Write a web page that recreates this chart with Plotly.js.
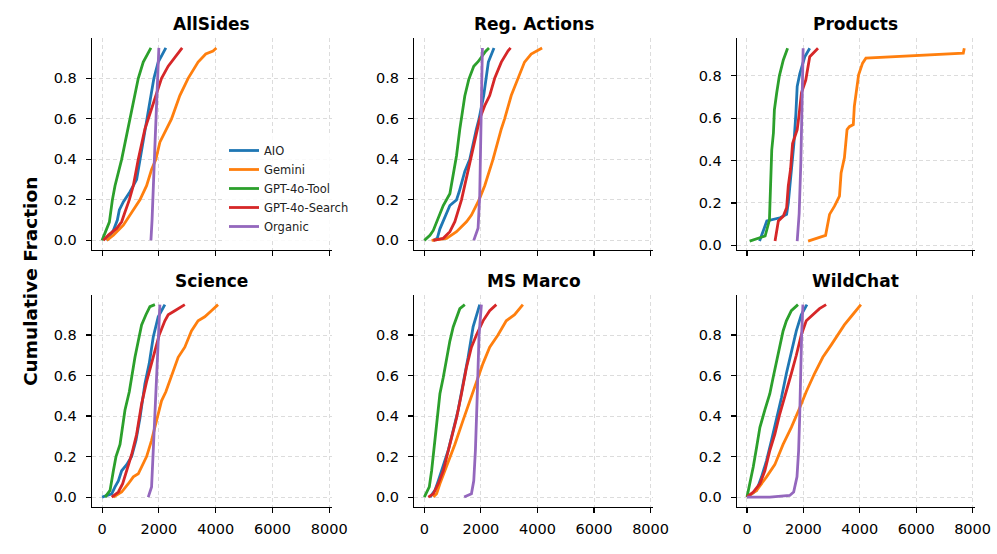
<!DOCTYPE html>
<html>
<head>
<meta charset="utf-8">
<script src="https://cdn.plot.ly/plotly-3.0.1.min.js"></script>
<style>html,body{margin:0;padding:0;background:#fff;}#chart{width:997px;height:554px;}</style>
</head>
<body>
<div id="chart"></div>
<script>
// ---- names ----
const panelTitles = ["AllSides", "Reg. Actions", "Products", "Science", "MS Marco", "WildChat"];
const seriesNames = ["AIO", "Gemini", "GPT-4o-Tool", "GPT-4o-Search", "Organic"];
const seriesColors = ["#1f77b4", "#ff7f0e", "#2ca02c", "#d62728", "#9467bd"];
const xTickVals = [0, 2000, 4000, 6000, 8000];
const yTickVals = [0, 0.2, 0.4, 0.6, 0.8];
const yTickText = ["0.0", "0.2", "0.4", "0.6", "0.8"];

// ---- AllSides ----
const allsides_aio_x = [164, 400, 538, 608, 748, 983, 1217, 1404, 1626, 1685, 1825, 1977, 2246];
const allsides_aio_y = [0, 0.05, 0.1, 0.15, 0.19, 0.24, 0.3, 0.45, 0.63, 0.67, 0.8, 0.88, 0.95];
const allsides_gemini_x = [164, 398, 749, 983, 1334, 1568, 1743, 1895, 2036, 2270, 2446, 2738, 3030, 3381, 3650, 3907, 4025];
const allsides_gemini_y = [0, 0.026, 0.075, 0.125, 0.2, 0.27, 0.35, 0.4, 0.485, 0.55, 0.6, 0.715, 0.8, 0.88, 0.92, 0.935, 0.95];
const allsides_tool_x = [0, 257, 363, 456, 690, 982, 1275, 1450, 1720];
const allsides_tool_y = [0, 0.09, 0.2, 0.27, 0.4, 0.6, 0.8, 0.88, 0.95];
const allsides_search_x = [47, 222, 515, 690, 807, 959, 1100, 1275, 1509, 1626, 1860, 2094, 2328, 2620, 2820];
const allsides_search_y = [0, 0.026, 0.059, 0.092, 0.14, 0.2, 0.27, 0.4, 0.55, 0.6, 0.71, 0.8, 0.86, 0.91, 0.95];
const allsides_organic_x = [1720, 1760, 1870, 1980, 2000];
const allsides_organic_y = [0, 0.1, 0.5, 0.9, 0.95];

// ---- Reg. Actions ----
const regactions_aio_x = [317, 457, 551, 762, 903, 1138, 1232, 1431, 1607, 1841, 1935, 2100, 2193, 2264, 2463];
const regactions_aio_y = [0, 0.01, 0.057, 0.123, 0.172, 0.2, 0.24, 0.34, 0.4, 0.55, 0.6, 0.715, 0.8, 0.88, 0.95];
const regactions_gemini_x = [258, 786, 1138, 1490, 1666, 1841, 1935, 2135, 2428, 2722, 2839, 3073, 3308, 3542, 3777, 4164];
const regactions_gemini_y = [0, 0.01, 0.043, 0.092, 0.125, 0.174, 0.2, 0.27, 0.4, 0.55, 0.6, 0.715, 0.8, 0.88, 0.92, 0.95];
const regactions_tool_x = [0, 199, 317, 528, 669, 903, 1021, 1138, 1255, 1314, 1431, 1572, 1748, 1900, 2170, 2287];
const regactions_tool_y = [0, 0.025, 0.049, 0.123, 0.172, 0.23, 0.32, 0.418, 0.549, 0.598, 0.713, 0.795, 0.859, 0.882, 0.934, 0.95];
const regactions_search_x = [317, 669, 903, 1079, 1314, 1642, 1900, 1959, 2135, 2311, 2487, 2722, 2956, 3050];
const regactions_search_y = [0, 0.01, 0.043, 0.092, 0.2, 0.4, 0.55, 0.6, 0.665, 0.715, 0.8, 0.88, 0.935, 0.95];
const regactions_organic_x = [1748, 1900, 1959, 2006, 2053];
const regactions_organic_y = [0, 0.06, 0.22, 0.55, 0.95];

// ---- Products ----
const products_aio_x = [445, 562, 703, 1171, 1405, 1464, 1581, 1663, 1733, 1780, 1874, 2049, 2225];
const products_aio_y = [0.02, 0.067, 0.115, 0.13, 0.146, 0.2, 0.36, 0.48, 0.62, 0.75, 0.81, 0.89, 0.93];
const products_gemini_x = [2166, 2787, 2927, 3103, 3279, 3337, 3454, 3548, 3630, 3770, 3806, 3888, 3958, 4099, 4216, 7670, 7705];
const products_gemini_y = [0.02, 0.047, 0.146, 0.185, 0.232, 0.342, 0.413, 0.546, 0.56, 0.57, 0.656, 0.75, 0.805, 0.86, 0.883, 0.907, 0.93];
const products_tool_x = [94, 644, 796, 843, 878, 937, 972, 1054, 1148, 1288, 1440];
const products_tool_y = [0.02, 0.044, 0.12, 0.28, 0.45, 0.53, 0.64, 0.72, 0.8, 0.875, 0.93];
const products_search_x = [995, 1112, 1288, 1405, 1464, 1546, 1616, 1780, 1850, 1932, 2084, 2225, 2518];
const products_search_y = [0.02, 0.115, 0.138, 0.177, 0.28, 0.36, 0.48, 0.546, 0.62, 0.72, 0.78, 0.89, 0.93];
const products_organic_x = [1780, 1850, 1909, 1956, 1991];
const products_organic_y = [0.02, 0.15, 0.39, 0.7, 0.93];

// ---- Science ----
const science_aio_x = [0, 339, 456, 573, 690, 866, 1041, 1193, 1334, 1509, 1661, 1802, 1977, 2211];
const science_aio_y = [0, 0.016, 0.05, 0.08, 0.13, 0.16, 0.2, 0.28, 0.39, 0.56, 0.66, 0.79, 0.89, 0.95];
const science_gemini_x = [398, 690, 925, 1100, 1275, 1568, 1743, 1919, 2094, 2246, 2445, 2679, 2913, 3147, 3381, 3615, 3850, 4083];
const science_gemini_y = [0, 0.025, 0.066, 0.1, 0.115, 0.2, 0.28, 0.38, 0.475, 0.52, 0.6, 0.69, 0.74, 0.82, 0.87, 0.89, 0.92, 0.95];
const science_tool_x = [105, 281, 398, 491, 632, 725, 807, 959, 1041, 1158, 1275, 1392, 1544, 1685, 1860];
const science_tool_y = [0, 0.033, 0.13, 0.2, 0.26, 0.34, 0.43, 0.52, 0.6, 0.69, 0.77, 0.85, 0.9, 0.94, 0.95];
const science_search_x = [339, 573, 725, 866, 1041, 1217, 1392, 1568, 1743, 1860, 2012, 2211, 2328, 2562, 2679, 2913];
const science_search_y = [0, 0.025, 0.066, 0.13, 0.21, 0.31, 0.46, 0.57, 0.66, 0.72, 0.8, 0.87, 0.9, 0.92, 0.93, 0.95];
const science_organic_x = [1626, 1743, 1802, 1919, 2036];
const science_organic_y = [0, 0.05, 0.23, 0.56, 0.95];

// ---- MS Marco ----
const msmarco_aio_x = [199, 375, 492, 669, 844, 1021, 1196, 1372, 1548, 1724, 1842, 1959];
const msmarco_aio_y = [0, 0.033, 0.08, 0.15, 0.23, 0.33, 0.43, 0.56, 0.69, 0.84, 0.89, 0.95];
const msmarco_gemini_x = [317, 434, 551, 786, 1079, 1372, 1607, 1842, 2076, 2311, 2604, 2897, 3191, 3484];
const msmarco_gemini_y = [0, 0.016, 0.066, 0.15, 0.26, 0.38, 0.475, 0.57, 0.66, 0.74, 0.8, 0.87, 0.9, 0.95];
const msmarco_tool_x = [0, 176, 258, 375, 457, 551, 669, 786, 903, 1021, 1138, 1255, 1431];
const msmarco_tool_y = [0, 0.05, 0.13, 0.28, 0.39, 0.51, 0.59, 0.69, 0.77, 0.84, 0.89, 0.93, 0.95];
const msmarco_search_x = [141, 317, 492, 669, 903, 1138, 1314, 1490, 1666, 1842, 2076, 2311, 2545];
const msmarco_search_y = [0, 0.016, 0.066, 0.13, 0.26, 0.39, 0.51, 0.64, 0.74, 0.8, 0.87, 0.92, 0.95];
const msmarco_organic_x = [1408, 1666, 1748, 1806, 1865, 1935, 2018];
const msmarco_organic_y = [0, 0.016, 0.08, 0.23, 0.475, 0.8, 0.95];

// ---- WildChat ----
const wildchat_aio_x = [0, 340, 517, 693, 869, 1045, 1221, 1397, 1573, 1749, 1925, 2125];
const wildchat_aio_y = [0, 0.033, 0.1, 0.18, 0.28, 0.38, 0.49, 0.61, 0.72, 0.82, 0.9, 0.95];
const wildchat_gemini_x = [0, 340, 693, 986, 1280, 1573, 1867, 2101, 2395, 2688, 2982, 3217, 3452, 3745, 4039];
const wildchat_gemini_y = [0, 0.033, 0.1, 0.16, 0.26, 0.344, 0.44, 0.52, 0.61, 0.69, 0.75, 0.8, 0.85, 0.9, 0.95];
const wildchat_tool_x = [0, 106, 223, 341, 458, 634, 810, 927, 1045, 1162, 1280, 1397, 1573, 1808];
const wildchat_tool_y = [0, 0.066, 0.15, 0.246, 0.344, 0.43, 0.51, 0.59, 0.67, 0.75, 0.82, 0.87, 0.92, 0.95];
const wildchat_search_x = [0, 223, 458, 634, 810, 986, 1162, 1397, 1573, 1749, 1925, 2101, 2336, 2571, 2806];
const wildchat_search_y = [0, 0.025, 0.066, 0.13, 0.23, 0.31, 0.41, 0.52, 0.61, 0.7, 0.8, 0.87, 0.9, 0.93, 0.95];
const wildchat_organic_x = [0, 810, 1514, 1655, 1773, 1831, 1867, 1902, 1937, 1984];
const wildchat_organic_y = [0, 0, 0.008, 0.025, 0.1, 0.23, 0.39, 0.64, 0.8, 0.95];

const panels = [
  [[allsides_aio_x, allsides_aio_y], [allsides_gemini_x, allsides_gemini_y], [allsides_tool_x, allsides_tool_y], [allsides_search_x, allsides_search_y], [allsides_organic_x, allsides_organic_y]],
  [[regactions_aio_x, regactions_aio_y], [regactions_gemini_x, regactions_gemini_y], [regactions_tool_x, regactions_tool_y], [regactions_search_x, regactions_search_y], [regactions_organic_x, regactions_organic_y]],
  [[products_aio_x, products_aio_y], [products_gemini_x, products_gemini_y], [products_tool_x, products_tool_y], [products_search_x, products_search_y], [products_organic_x, products_organic_y]],
  [[science_aio_x, science_aio_y], [science_gemini_x, science_gemini_y], [science_tool_x, science_tool_y], [science_search_x, science_search_y], [science_organic_x, science_organic_y]],
  [[msmarco_aio_x, msmarco_aio_y], [msmarco_gemini_x, msmarco_gemini_y], [msmarco_tool_x, msmarco_tool_y], [msmarco_search_x, msmarco_search_y], [msmarco_organic_x, msmarco_organic_y]],
  [[wildchat_aio_x, wildchat_aio_y], [wildchat_gemini_x, wildchat_gemini_y], [wildchat_tool_x, wildchat_tool_y], [wildchat_search_x, wildchat_search_y], [wildchat_organic_x, wildchat_organic_y]]
];

// ---- layout geometry (pixels of 997x554 canvas) ----
const W = 997, H = 554;
const colX = [[91.7, 331.7], [414, 653], [736.7, 975]];
const rowY = [[38.3, 250], [295, 506.7]];
const FONT = "DejaVu Sans";

const traces = [];
const layout = {
  width: W, height: H,
  margin: {l: 0, r: 0, t: 0, b: 0},
  paper_bgcolor: "#fff", plot_bgcolor: "#fff",
  font: {family: FONT, color: "#000", size: 14},
  showlegend: true,
  legend: {
    x: 224 / W, y: 1 - 136 / H, xanchor: "left", yanchor: "top",
    bgcolor: "rgba(255,255,255,0.85)", borderwidth: 0,
    font: {family: FONT, size: 11.5, color: "#222"},
    tracegroupgap: 0, itemwidth: 30
  },
  annotations: [],
  shapes: []
};

panels.forEach((series, p) => {
  const idx = p + 1;
  const row = Math.floor(p / 3), col = p % 3;
  const xa = "xaxis" + (idx === 1 ? "" : idx);
  const ya = "yaxis" + (idx === 1 ? "" : idx);
  const xref = "x" + (idx === 1 ? "" : idx);
  const yref = "y" + (idx === 1 ? "" : idx);
  series.forEach((s, k) => {
    traces.push({
      type: "scatter", mode: "lines",
      x: s[0], y: s[1],
      xaxis: xref, yaxis: yref,
      name: seriesNames[k],
      showlegend: p === 0,
      line: {color: seriesColors[k], width: 2.8},
      hoverinfo: "skip"
    });
  });
  const isProducts = panelTitles[p] === "Products";
  layout[xa] = {
    domain: [colX[col][0] / W, colX[col][1] / W],
    anchor: yref,
    range: [-365, 8085],
    tickvals: xTickVals,
    ticktext: xTickVals.map(String),
    showticklabels: row === 1,
    ticks: "outside", ticklen: 5, tickwidth: 1.1, tickcolor: "#000",
    showline: true, linecolor: "#000", linewidth: 1.1,
    showgrid: true, gridcolor: "#d3d3d3", gridwidth: 0.8, griddash: "4px,3px",
    zeroline: false, automargin: false,
    tickfont: {family: FONT, size: 14.5, color: "#000"},
    ticklabelstandoff: 4
  };
  layout[ya] = {
    domain: [1 - rowY[row][1] / H, 1 - rowY[row][0] / H],
    anchor: xref,
    range: isProducts ? [-0.022, 0.977] : [-0.0475, 0.9975],
    tickvals: yTickVals,
    ticktext: yTickText,
    ticks: "outside", ticklen: 5, tickwidth: 1.1, tickcolor: "#000",
    showline: true, linecolor: "#000", linewidth: 1.1,
    showgrid: true, gridcolor: "#d3d3d3", gridwidth: 0.8, griddash: "4px,3px",
    zeroline: false, automargin: false,
    tickfont: {family: FONT, size: 14.5, color: "#000"},
    ticklabelstandoff: 6
  };
  layout.annotations.push({
    text: panelTitles[p],
    xref: "paper", yref: "paper",
    x: (colX[col][0] + colX[col][1]) / 2 / W,
    y: 1 - (rowY[row][0] - 14.5) / H,
    xanchor: "center", yanchor: "middle",
    showarrow: false,
    font: {family: FONT, size: 17, weight: "bold", color: "#000"}
  });
});

layout.annotations.push({
  text: "Cumulative Fraction",
  xref: "paper", yref: "paper",
  x: 30 / W, y: 1 - 282 / H,
  xanchor: "center", yanchor: "middle",
  textangle: -90, showarrow: false,
  font: {family: FONT, size: 18.5, weight: "bold", color: "#000"}
});

Plotly.newPlot("chart", traces, layout, {staticPlot: true, displayModeBar: false});
</script>
</body>
</html>
